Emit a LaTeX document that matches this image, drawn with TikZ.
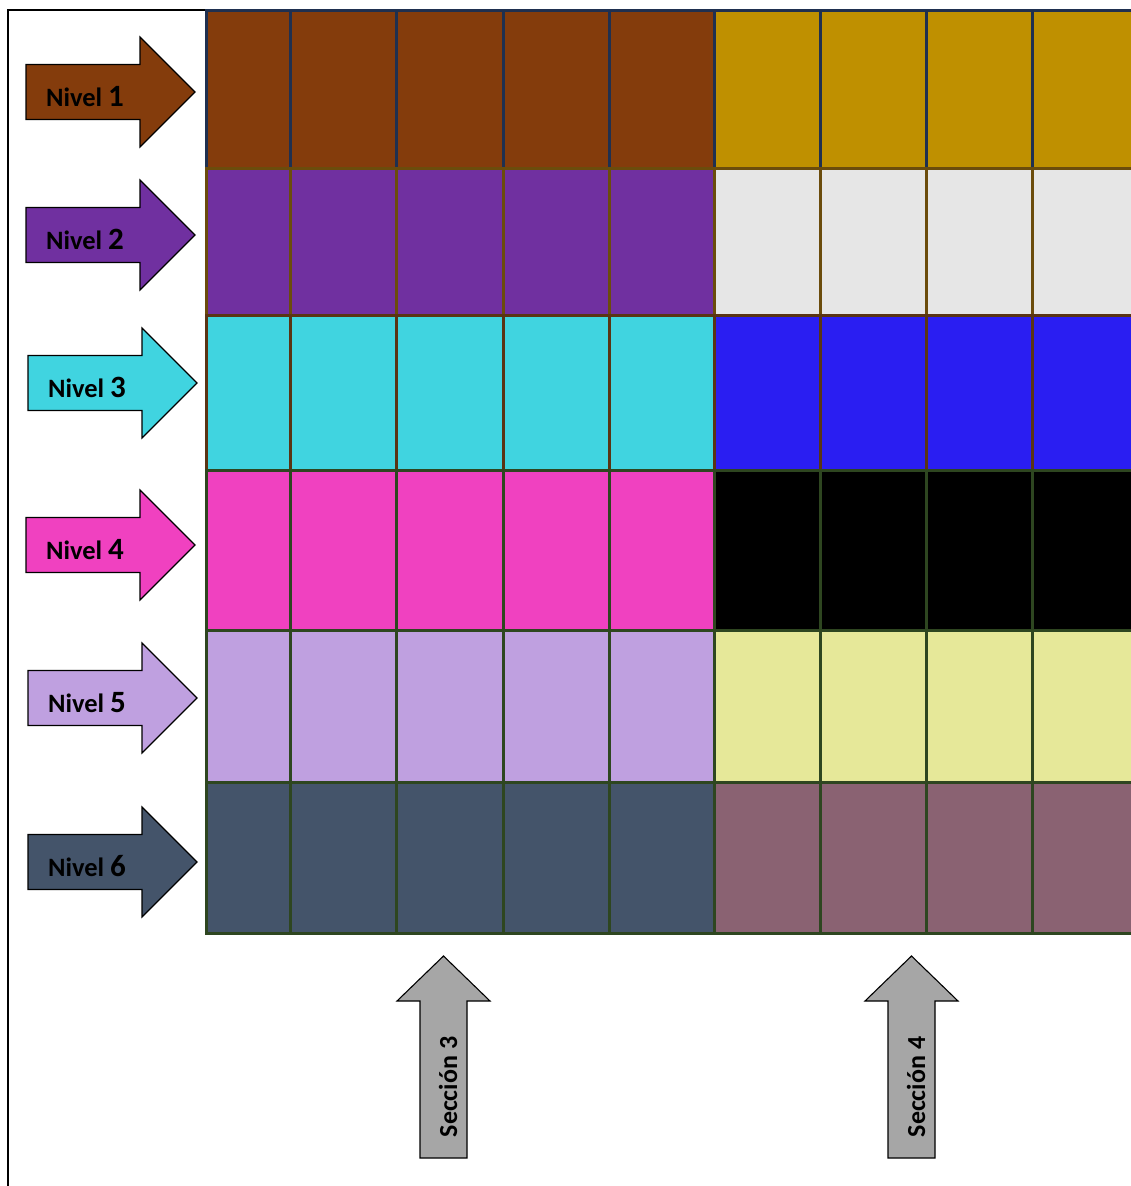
\documentclass[tikz,border=0pt]{standalone}
\usepackage{fontspec}
\setmainfont{Carlito}
\definecolor{cAl}{HTML}{843C0C}\definecolor{cAr}{HTML}{BF9000}\definecolor{cAb}{HTML}{1F3050}
\definecolor{cBl}{HTML}{7030A0}\definecolor{cBr}{HTML}{E6E6E6}\definecolor{cBb}{HTML}{6B4C0C}
\definecolor{cCl}{HTML}{40D4E0}\definecolor{cCr}{HTML}{2A1EF2}\definecolor{cCb}{HTML}{5A3414}
\definecolor{cDl}{HTML}{F041C0}\definecolor{cDr}{HTML}{000000}\definecolor{cDb}{HTML}{2E4620}
\definecolor{cEl}{HTML}{BFA0E0}\definecolor{cEr}{HTML}{E6E899}\definecolor{cEb}{HTML}{2E4620}
\definecolor{cFl}{HTML}{44546A}\definecolor{cFr}{HTML}{8A6272}\definecolor{cFb}{HTML}{2E4620}
\definecolor{secgray}{HTML}{A6A6A6}
\tikzset{
  cellbox/.style={line width=3pt},
  arrowshape/.style={draw=black, line width=1.1pt, line join=miter},
  niveltext/.style={font=\bfseries\fontsize{26.5}{30}\selectfont, text=black, inner sep=0pt},
  sectext/.style={font=\bfseries\fontsize{26}{30}\selectfont, text=black, inner sep=0pt, rotate=90},
}
\newcommand\nivelarrow[5]{% x0, yc, color, number, name
  \path[arrowshape, fill=#3] (#1,#2-27.5) -- (#1+114,#2-27.5) -- (#1+114,#2-55) -- (#1+169,#2)
    -- (#1+114,#2+55) -- (#1+114,#2+27.5) -- (#1,#2+27.5) -- cycle;
  \node[niveltext, anchor=base] (#5) at (#1+59,#2+14) {Nivel {\fontsize{31}{34}\selectfont #4}};
}
\newcommand\secarrow[3]{% xc, number, name
  \path[arrowshape, fill=secgray] (#1,956) -- (#1+46.5,1001) -- (#1+23.5,1001) -- (#1+23.5,1158)
    -- (#1-23.5,1158) -- (#1-23.5,1001) -- (#1-46.5,1001) -- cycle;
  \node[sectext] (#3) at (#1+4.5,1087) {Sección #2};
}
\begin{document}
\begin{tikzpicture}[x=1pt,y=-1pt]
\clip (0,0) rectangle (1131,1186);
\fill[white] (0,0) rectangle (1131,1186);
% frame
\draw[black, line width=2pt] (8,1190) -- (8,10) -- (206,10);
% grid fills
\def\rowlist{10/168/A,168/315/B,315/470/C,470/630/D,630/782/E,782/933/F}
\foreach \ya/\yb/\r in \rowlist {
  \fill[c\r l] (206,\ya) rectangle (714,\yb);
  \fill[c\r r] (714,\ya) rectangle (1140,\yb);
}
% grid borders
\foreach \ya/\yb/\r in \rowlist {
  \foreach \xa/\xb in {206/290,290/396,396/503,503/609,609/714,714/820,820/926,926/1032,1032/1138} {
    \draw[cellbox, c\r b] (\xa,\ya) rectangle (\xb,\yb);
  }
}
% level arrows
\nivelarrow{26}{92}{cAl}{1}{n1}
\nivelarrow{26}{235}{cBl}{2}{n2}
\nivelarrow{28}{383}{cCl}{3}{n3}
\nivelarrow{26}{545}{cDl}{4}{n4}
\nivelarrow{28}{698}{cEl}{5}{n5}
\nivelarrow{28}{862}{cFl}{6}{n6}
% section arrows
\secarrow{443.5}{3}{s3}
\secarrow{911.5}{4}{s4}
\end{tikzpicture}
\end{document}
